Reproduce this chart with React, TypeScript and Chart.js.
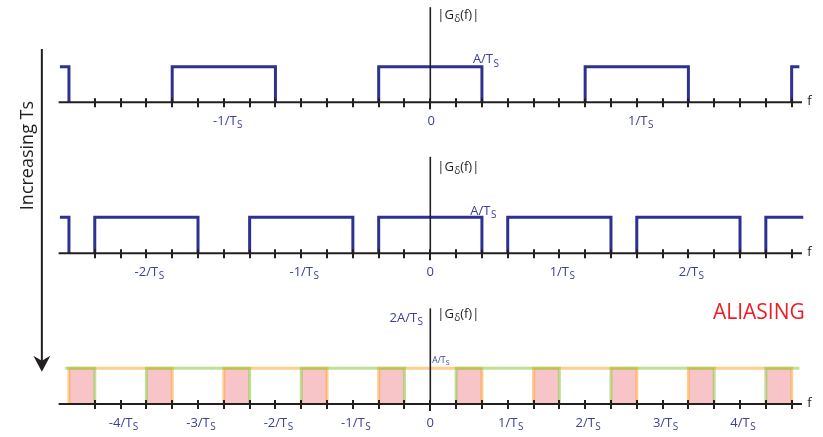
import React, { useEffect, useRef } from "react";
import { Chart, registerables } from "chart.js";

Chart.register(...registerables);

// x axis in units of one tick spacing; 0 = f origin
const tickPositions = [-13, -12, -11, -10, -9, -8, -7, -6, -5, -4, -3, -2, -1, 0, 1, 2, 3, 4, 5, 6, 7, 8, 9, 10, 11, 12, 13, 14];
const axisExtent = [-14.4, 14.4];

// Panel 1 (small Ts): spectrum copies [start, end], height A/Ts = 1
const panel1Rects = [[-18, -14], [-10, -6], [-2, 2], [6, 10], [14, 18]];
const panel1Window = [-14.35, 14.3];
const panel1LabelPos = [-8, 0, 8];
const panel1LabelMain = ["-1/T", "0", "1/T"];

// Panel 2 (larger Ts)
const panel2Rects = [[-18, -14], [-13, -9], [-7, -3], [-2, 2], [3, 7], [8, 12], [13, 17]];
const panel2Window = [-14.35, 14.45];
const panel2LabelPos = [-11, -5, 0, 5, 10];
const panel2LabelMain = ["-2/T", "-1/T", "0", "1/T", "2/T"];

// Panel 3 (aliasing): alternating copies, overlaps shaded
const panel3Orange = [[-14, -10], [-8, -4], [-2, 2], [4, 8], [10, 14]];
const panel3Green = [[-17, -13], [-11, -7], [-5, -1], [1, 5], [7, 11], [13, 17]];
const panel3Overlap = [[-14, -13], [-11, -10], [-8, -7], [-5, -4], [-2, -1], [1, 2], [4, 5], [7, 8], [10, 11], [13, 14]];
const panel3Window = [-14.15, 14.3];
const panel3LabelPos = [-12, -9, -6, -3, 0, 3, 6, 9, 12];
const panel3LabelMain = ["-4/T", "-3/T", "-2/T", "-1/T", "0", "1/T", "2/T", "3/T", "4/T"];

const NAVY = "#2e3192";
const LABEL_BLUE = "#3c419a";
const DARK = "#231f20";
const FONT = '"Open Sans", "DejaVu Sans", sans-serif';

function outline(rects: number[][], win: number[]) {
  const pts: { x: number; y: number | null }[] = [];
  rects.forEach(([a, b]) => {
    if (b < win[0] || a > win[1]) return;
    const s = Math.max(a, win[0]);
    const e = Math.min(b, win[1]);
    if (a >= win[0]) pts.push({ x: a, y: 0 });
    pts.push({ x: s, y: 1 });
    pts.push({ x: e, y: 1 });
    if (b <= win[1]) pts.push({ x: b, y: 0 });
    pts.push({ x: e, y: null });
  });
  return pts;
}

function rectPts(a: number, b: number) {
  return [
    { x: a, y: 0 },
    { x: a, y: 1 },
    { x: b, y: 1 },
    { x: b, y: 0 },
  ];
}

type Run = { t: string; size: number; dy?: number; dx?: number };

function drawRuns(ctx: CanvasRenderingContext2D, x: number, y: number, runs: Run[], color: string, align: "left" | "center" | "right", centerFirst = false) {
  ctx.save();
  ctx.textBaseline = "middle";
  ctx.textAlign = "left";
  ctx.fillStyle = color;
  const widths = runs.map((r) => {
    ctx.font = `${r.size}px ${FONT}`;
    return ctx.measureText(r.t).width + (r.dx || 0);
  });
  const total = widths.reduce((s, w) => s + w, 0);
  let left = x;
  if (align === "center") left = centerFirst ? x - widths[0] / 2 : x - total / 2;
  else if (align === "right") left = x - total;
  runs.forEach((r, i) => {
    ctx.font = `${r.size}px ${FONT}`;
    ctx.fillText(r.t, left + (r.dx || 0), y + (r.dy || 0));
    left += widths[i];
  });
  ctx.restore();
}

const diagramPlugin = {
  id: "diagram",
  afterDatasetsDraw(chart: any) {
    const ctx: CanvasRenderingContext2D = chart.ctx;
    const xs = chart.scales.x;
    const X = (v: number) => xs.getPixelForValue(v);
    const panels = [
      { id: "y1", labels: panel1LabelPos, mains: panel1LabelMain },
      { id: "y2", labels: panel2LabelPos, mains: panel2LabelMain },
      { id: "y3", labels: panel3LabelPos, mains: panel3LabelMain },
    ];
    panels.forEach((p, pi) => {
      const ys = chart.scales[p.id];
      const Y = (v: number) => ys.getPixelForValue(v);
      const base = Y(0);
      ctx.save();
      ctx.strokeStyle = DARK;
      ctx.lineWidth = 2;
      // horizontal axis
      ctx.beginPath();
      ctx.moveTo(X(axisExtent[0]), base);
      ctx.lineTo(X(axisExtent[1]), base);
      ctx.stroke();
      // ticks
      tickPositions.forEach((t) => {
        const px = Math.round(X(t)) + 0.0;
        ctx.beginPath();
        ctx.moveTo(px, base - 4);
        ctx.lineTo(px, base + (t === 0 ? 7 : 5));
        ctx.stroke();
      });
      // vertical axis
      ctx.lineWidth = 1.6;
      ctx.beginPath();
      ctx.moveTo(X(0), Y(2.68));
      ctx.lineTo(X(0), base);
      ctx.stroke();
      ctx.restore();
      // tick labels
      p.labels.forEach((v, i) => {
        const m = p.mains[i];
        const runs: Run[] = m === "0" ? [{ t: m, size: 13 }] : [{ t: m, size: 13 }, { t: "S", size: 10, dy: 4, dx: 0.5 }];
        drawRuns(ctx, X(v) + (pi === 0 ? 1 : 0), base + 19, runs, LABEL_BLUE, "center", true);
      });
      // |G_delta(f)|
      drawRuns(ctx, X(0.27), Y(pi === 0 ? 2.45 : pi === 1 ? 2.4 : 2.52), [
        { t: "|G", size: 13 },
        { t: "δ", size: 10, dy: 4, dx: 0.3 },
        { t: "(f)|", size: 13 },
      ], DARK, "left");
      // f label
      drawRuns(ctx, X(14.6), base - 1, [{ t: "f", size: 13 }], DARK, "left");
    });

    // A/Ts labels for panels 1 and 2
    const y1 = chart.scales.y1;
    const y2 = chart.scales.y2;
    const y3 = chart.scales.y3;
    drawRuns(ctx, X(1.65), y1.getPixelForValue(1.2), [{ t: "A/T", size: 13 }, { t: "S", size: 10, dy: 4, dx: 0.5 }], LABEL_BLUE, "left");
    drawRuns(ctx, X(1.55), y2.getPixelForValue(1.18), [{ t: "A/T", size: 13 }, { t: "S", size: 10, dy: 4, dx: 0.5 }], LABEL_BLUE, "left");
    // panel 3 labels
    drawRuns(ctx, X(-0.28), y3.getPixelForValue(2.4), [{ t: "2A/T", size: 13 }, { t: "S", size: 10, dy: 4, dx: 0.5 }], LABEL_BLUE, "right");
    drawRuns(ctx, X(0.08), y3.getPixelForValue(1.22), [{ t: "A/T", size: 8.5 }, { t: "S", size: 7, dy: 2.5, dx: 0.3 }], LABEL_BLUE, "left");
    drawRuns(ctx, X(10.95), y3.getPixelForValue(2.55), [{ t: "ALIASING", size: 21 }], "#ed1c24", "left");

    // Increasing Ts arrow
    const ax = X(-15.05);
    const top = y1.getPixelForValue(1.5);
    const tip = y3.getPixelForValue(0.9);
    ctx.save();
    ctx.strokeStyle = DARK;
    ctx.fillStyle = DARK;
    ctx.lineWidth = 2;
    ctx.beginPath();
    ctx.moveTo(ax, top);
    ctx.lineTo(ax, tip - 10);
    ctx.stroke();
    ctx.beginPath();
    ctx.moveTo(ax, tip);
    ctx.lineTo(ax - 8.5, tip - 16);
    ctx.lineTo(ax, tip - 11);
    ctx.lineTo(ax + 8.5, tip - 16);
    ctx.closePath();
    ctx.fill();
    // rotated text
    ctx.translate(X(-15.6), y1.getPixelForValue(-1.5));
    ctx.rotate(-Math.PI / 2);
    ctx.font = `18px ${FONT}`;
    ctx.textAlign = "center";
    ctx.textBaseline = "middle";
    ctx.fillStyle = DARK;
    ctx.fillText("Increasing Ts", 0, 0);
    ctx.restore();
  },
};

export default function App() {
  const ref = useRef<HTMLCanvasElement>(null);
  useEffect(() => {
    const lineDs = (data: any[], yAxisID: string, color: string, width = 3) => ({
      data,
      yAxisID,
      showLine: true,
      borderColor: color,
      borderWidth: width,
      pointRadius: 0,
      spanGaps: false,
      fill: false,
      borderJoinStyle: "miter" as const,
      order: 0,
    });
    const overlapDs = panel3Overlap.map(([a, b]) => ({
      data: rectPts(a, b),
      yAxisID: "y3",
      showLine: true,
      borderWidth: 0,
      borderColor: "rgba(0,0,0,0)",
      backgroundColor: "#f7c5c8",
      pointRadius: 0,
      fill: "origin",
      order: 2,
    }));
    const chart = new Chart(ref.current!, {
      type: "scatter",
      data: {
        datasets: [
          lineDs(outline(panel1Rects, panel1Window), "y1", NAVY),
          lineDs(outline(panel2Rects, panel2Window), "y2", NAVY),
          lineDs(outline(panel3Green, panel3Window), "y3", "rgba(141,198,63,0.55)"),
          lineDs(outline(panel3Orange, panel3Window), "y3", "rgba(251,166,50,0.55)"),
          ...overlapDs,
        ] as any,
      },
      options: {
        responsive: false,
        devicePixelRatio: 1,
        animation: false,
        events: [],
        layout: { padding: 0 },
        plugins: { legend: { display: false }, tooltip: { enabled: false }, title: { display: false } },
        scales: {
          x: { type: "linear", display: false, min: -430.3 / 25.81, max: (823 - 430.3) / 25.81 },
          y: { type: "linear", display: false },
          y1: { type: "linear", display: false, min: -(437 - 102.3) / 35.5, max: 102.3 / 35.5 },
          y2: { type: "linear", display: false, min: -(437 - 253.3) / 36, max: 253.3 / 36 },
          y3: { type: "linear", display: false, min: -(437 - 404) / 35.7, max: 404 / 35.7 },
        },
      },
      plugins: [diagramPlugin],
    });
    return () => chart.destroy();
  }, []);
  return (
    <div style={{ position: "absolute", left: 0, top: 0, width: 823, height: 437, background: "#fff" }}>
      <canvas ref={ref} width={823} height={437} style={{ display: "block", width: 823, height: 437 }} />
    </div>
  );
}
